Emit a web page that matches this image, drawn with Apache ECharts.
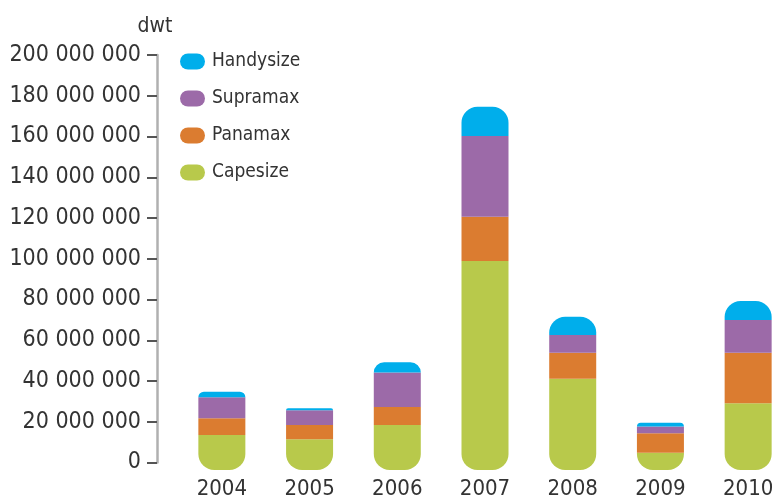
<!DOCTYPE html>
<html>
<head>
<meta charset="utf-8">
<script src="https://cdn.jsdelivr.net/npm/echarts@6/dist/echarts.min.js"></script>
<style>
  html, body { margin: 0; padding: 0; background: #fff; }
  #chart { width: 774px; height: 497px; }
</style>
</head>
<body>
<div id="chart"></div>
<script>
// years on the x axis
const years = ["2004", "2005", "2006", "2007", "2008", "2009", "2010"];

// dwt per segment
const capesize = [17200000, 15100000, 22100000, 102600000, 44800000, 8500000, 32700000];
const panamax = [8200000, 7000000, 8800000, 21700000, 12800000, 9500000, 24900000];
const supramax = [10300000, 7200000, 16900000, 39600000, 8700000, 3300000, 16000000];
const handysize = [2700000, 1000000, 5100000, 14400000, 8900000, 1900000, 9300000];

const legendNames = ["Handysize", "Supramax", "Panamax", "Capesize"];
const colors = {
  Handysize: "#00aeeb",
  Supramax: "#9c6aa8",
  Panamax: "#db7c30",
  Capesize: "#b8c94b",
};

const font = "'Liberation Sans Narrow', 'DejaVu Sans Condensed', sans-serif";
const pill = "path://M8,0 L17,0 A8,8 0 0 1 17,16 L8,16 A8,8 0 0 1 8,0 Z";

function fmt(v) {
  return String(v).replace(/\B(?=(\d{3})+(?!\d))/g, " ");
}

function barSeries(name, data, radius) {
  return {
    name: name,
    type: "bar",
    stack: "total",
    xAxisIndex: 1,
    yAxisIndex: 1,
    barWidth: 47,
    data: data,
    itemStyle: { color: colors[name], borderRadius: radius },
    emphasis: { disabled: true },
  };
}

let chart = echarts.init(document.getElementById("chart"));
const option = {
  animation: false,
  textStyle: { fontFamily: font },
  legend: {
    data: legendNames.map((n) => ({ name: n, icon: pill, itemStyle: { color: colors[n] } })),
    orient: "vertical",
    left: 175,
    top: 47,
    itemWidth: 25,
    itemHeight: 16,
    itemGap: 18,
    selectedMode: false,
    textStyle: { fontFamily: font, fontSize: 19, color: "#333", padding: [0, 0, 0, 2] },
  },
  // grid 0 carries the visible value axis, grid 1 the bars
  grid: [
    { left: 178, width: 614, top: 55, bottom: 34.5, outerBoundsMode: "none" },
    { left: 178, width: 614, top: 62.5, bottom: 27, outerBoundsMode: "none" },
  ],
  xAxis: [
    { type: "category", gridIndex: 0, data: years, show: false },
    {
      type: "category",
      gridIndex: 1,
      data: years,
      axisLine: { show: false },
      axisTick: { show: false },
      axisLabel: { fontFamily: font, fontSize: 22, color: "#333", margin: 8 },
    },
  ],
  yAxis: [
    {
      type: "value",
      gridIndex: 0,
      min: 0,
      max: 200000000,
      interval: 20000000,
      offset: 21,
      name: "dwt",
      nameLocation: "end",
      nameGap: 18,
      nameTextStyle: { fontFamily: font, fontSize: 21, color: "#333", padding: [0, 4, 0, 0] },
      axisLine: { show: true, lineStyle: { color: "#b0b0b0", width: 2.5 } },
      axisTick: { show: true, length: 10, lineStyle: { color: "#555", width: 2 } },
      axisLabel: { fontFamily: font, fontSize: 23, color: "#333", margin: 16, formatter: fmt },
      splitLine: { show: false },
    },
    { type: "value", gridIndex: 1, min: 0, max: 200000000, show: false },
  ],
  series: [
    barSeries("Capesize", capesize, [0, 0, 16, 16]),
    barSeries("Panamax", panamax, 0),
    barSeries("Supramax", supramax, 0),
    barSeries("Handysize", handysize, [16, 16, 0, 0]),
  ],
};
chart.setOption(option);
</script>
</body>
</html>
